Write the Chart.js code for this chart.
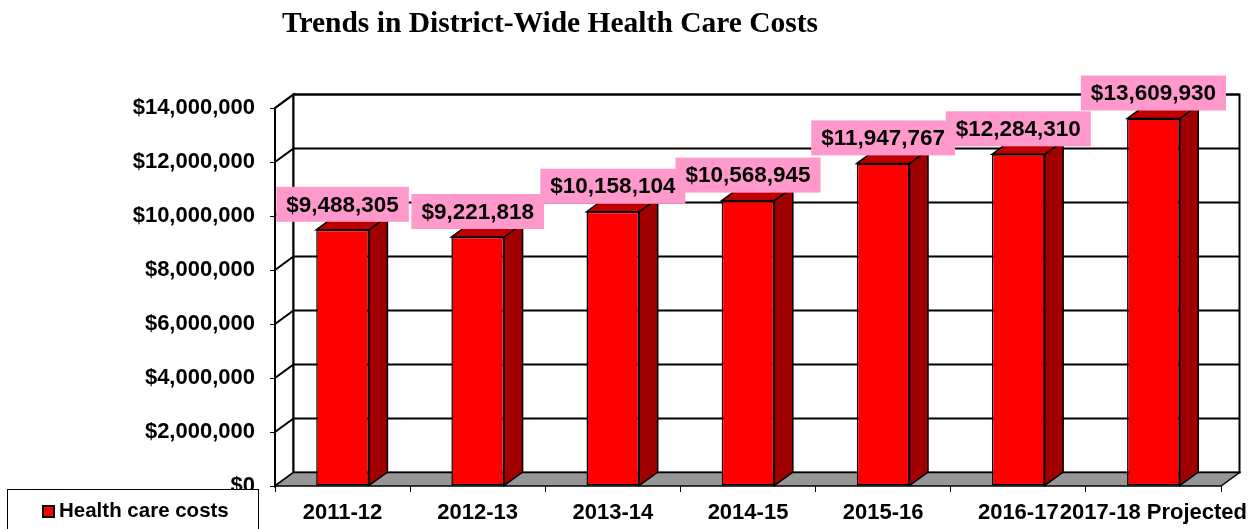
<!DOCTYPE html>
<html>
<head>
<meta charset="utf-8">
<script src="https://cdn.jsdelivr.net/npm/chart.js@4"></script>
<style>
  html, body { margin: 0; padding: 0; background: #fff; }
  #wrap { width: 1253px; height: 529px; }
</style>
</head>
<body>
<div id="wrap"><canvas id="c" width="1253" height="529"></canvas></div>
<script>
const chartTitle = 'Trends in District-Wide Health Care Costs';
const seriesName = 'Health care costs';
const categories = ['2011-12', '2012-13', '2013-14', '2014-15', '2015-16', '2016-17', '2017-18 Projected'];
const costs = [9488305, 9221818, 10158104, 10568945, 11947767, 12284310, 13609930];
const yMin = 0;
const yMax = 14000000;
const yStep = 2000000;

const DX = 18.5, DY = -13.5;
const FONT = '"Liberation Sans", Arial, sans-serif';
const money = v => '$' + Math.round(v).toLocaleString('en-US');

const threeD = {
  id: 'threeD',
  beforeDatasetsDraw(chart) {
    const ctx = chart.ctx;
    const a = chart.chartArea;
    const ys = chart.scales.y;
    ctx.save();
    ctx.lineJoin = 'miter';
    // left wall
    ctx.beginPath();
    ctx.moveTo(a.left, a.top);
    ctx.lineTo(a.left + DX, a.top + DY);
    ctx.lineTo(a.left + DX, a.bottom + DY);
    ctx.lineTo(a.left, a.bottom);
    ctx.closePath();
    ctx.fillStyle = '#fff';
    ctx.fill();
    ctx.lineWidth = 2;
    ctx.strokeStyle = '#000';
    ctx.stroke();
    // back wall
    ctx.beginPath();
    ctx.rect(a.left + DX, a.top + DY, a.right - a.left, a.bottom - a.top);
    ctx.fill();
    ctx.stroke();
    // gridlines
    ctx.lineWidth = 2;
    ys.ticks.forEach(t => {
      if (t.value <= yMin) return;
      const y = ys.getPixelForValue(t.value);
      ctx.beginPath();
      ctx.moveTo(a.left, y);
      ctx.lineTo(a.left + DX, y + DY);
      ctx.lineTo(a.right + DX, y + DY);
      ctx.stroke();
    });
    // floor
    ctx.beginPath();
    ctx.moveTo(a.left, a.bottom);
    ctx.lineTo(a.left + DX, a.bottom + DY);
    ctx.lineTo(a.right + DX, a.bottom + DY);
    ctx.lineTo(a.right, a.bottom);
    ctx.closePath();
    ctx.fillStyle = '#969696';
    ctx.fill();
    ctx.lineWidth = 1.5;
    ctx.stroke();
    // bar sides and tops
    const meta = chart.getDatasetMeta(0);
    meta.data.forEach(el => {
      const p = el.getProps(['x', 'y', 'base', 'width'], true);
      const l = p.x - p.width / 2, r = p.x + p.width / 2;
      ctx.lineWidth = 1.5;
      ctx.strokeStyle = '#000';
      ctx.beginPath();
      ctx.moveTo(r, p.y);
      ctx.lineTo(r + DX, p.y + DY);
      ctx.lineTo(r + DX, p.base + DY);
      ctx.lineTo(r, p.base);
      ctx.closePath();
      ctx.fillStyle = '#A00000';
      ctx.fill();
      ctx.stroke();
      ctx.beginPath();
      ctx.moveTo(l, p.y);
      ctx.lineTo(l + DX, p.y + DY);
      ctx.lineTo(r + DX, p.y + DY);
      ctx.lineTo(r, p.y);
      ctx.closePath();
      ctx.fillStyle = '#C00000';
      ctx.fill();
      ctx.stroke();
    });
    ctx.restore();
  },
  afterDatasetsDraw(chart) {
    const ctx = chart.ctx;
    const meta = chart.getDatasetMeta(0);
    ctx.save();
    ctx.font = 'bold 22.5px ' + FONT;
    ctx.textAlign = 'center';
    ctx.textBaseline = 'middle';
    meta.data.forEach((el, i) => {
      const p = el.getProps(['x', 'y'], true);
      const txt = money(costs[i]);
      const w = ctx.measureText(txt).width + 20;
      const h = 35;
      const bottom = p.y - 8;
      ctx.fillStyle = '#FF99CC';
      ctx.fillRect(p.x - w / 2, bottom - h, w, h);
      ctx.fillStyle = '#000';
      ctx.fillText(txt, p.x, bottom - h / 2 + 1);
    });
    ctx.restore();
  },
  afterDraw(chart) {
    const ctx = chart.ctx;
    ctx.save();
    ctx.font = 'bold 29.5px "Liberation Serif", "Times New Roman", serif';
    ctx.fillStyle = '#000';
    ctx.textAlign = 'center';
    ctx.textBaseline = 'alphabetic';
    ctx.fillText(chartTitle, 550, 32);
    // legend
    ctx.fillStyle = '#fff';
    ctx.fillRect(7.5, 489.5, 251, 45);
    ctx.strokeStyle = '#000';
    ctx.lineWidth = 1;
    ctx.strokeRect(7.5, 489.5, 251, 45);
    ctx.fillStyle = '#FF0000';
    ctx.fillRect(43, 506, 11, 11);
    ctx.lineWidth = 2;
    ctx.strokeRect(43, 506, 11, 11);
    ctx.fillStyle = '#000';
    ctx.font = 'bold 20.5px ' + FONT;
    ctx.textAlign = 'left';
    ctx.textBaseline = 'middle';
    ctx.fillText(chart.data.datasets[0].label, 59, 511);
    ctx.restore();
  }
};

new Chart(document.getElementById('c'), {
  type: 'bar',
  data: {
    labels: categories,
    datasets: [{
      label: seriesName,
      data: costs,
      backgroundColor: '#FF0000',
      borderColor: '#000',
      borderWidth: 1.5,
      borderSkipped: false,
      categoryPercentage: 1,
      barPercentage: 0.39
    }]
  },
  options: {
    responsive: false,
    animation: false,
    devicePixelRatio: 1,
    layout: { padding: { left: 0, right: 32, top: 108, bottom: 0 } },
    plugins: { legend: { display: false }, tooltip: { enabled: false }, title: { display: false } },
    scales: {
      x: {
        grid: { display: true, drawOnChartArea: false, drawTicks: true, tickLength: 6, color: '#000', lineWidth: 1, offset: true },
        border: { display: false },
        ticks: { color: '#000', font: { family: FONT, size: 22, weight: 'bold' }, padding: 8, maxRotation: 0, minRotation: 0, autoSkip: false },
        afterFit: s => { s.height = 43; s.paddingLeft = 0; s.paddingRight = 0; }
      },
      y: {
        min: yMin,
        max: yMax,
        grid: { display: true, drawOnChartArea: false, drawTicks: true, tickLength: 5, color: '#000', lineWidth: 1 },
        border: { display: false },
        ticks: { stepSize: yStep, color: '#000', font: { family: FONT, size: 22, weight: 'bold' }, padding: 15, callback: v => money(v) },
        afterFit: s => { s.width = 275; s.paddingTop = 0; s.paddingBottom = 0; }
      }
    }
  },
  plugins: [threeD]
});
</script>
</body>
</html>
